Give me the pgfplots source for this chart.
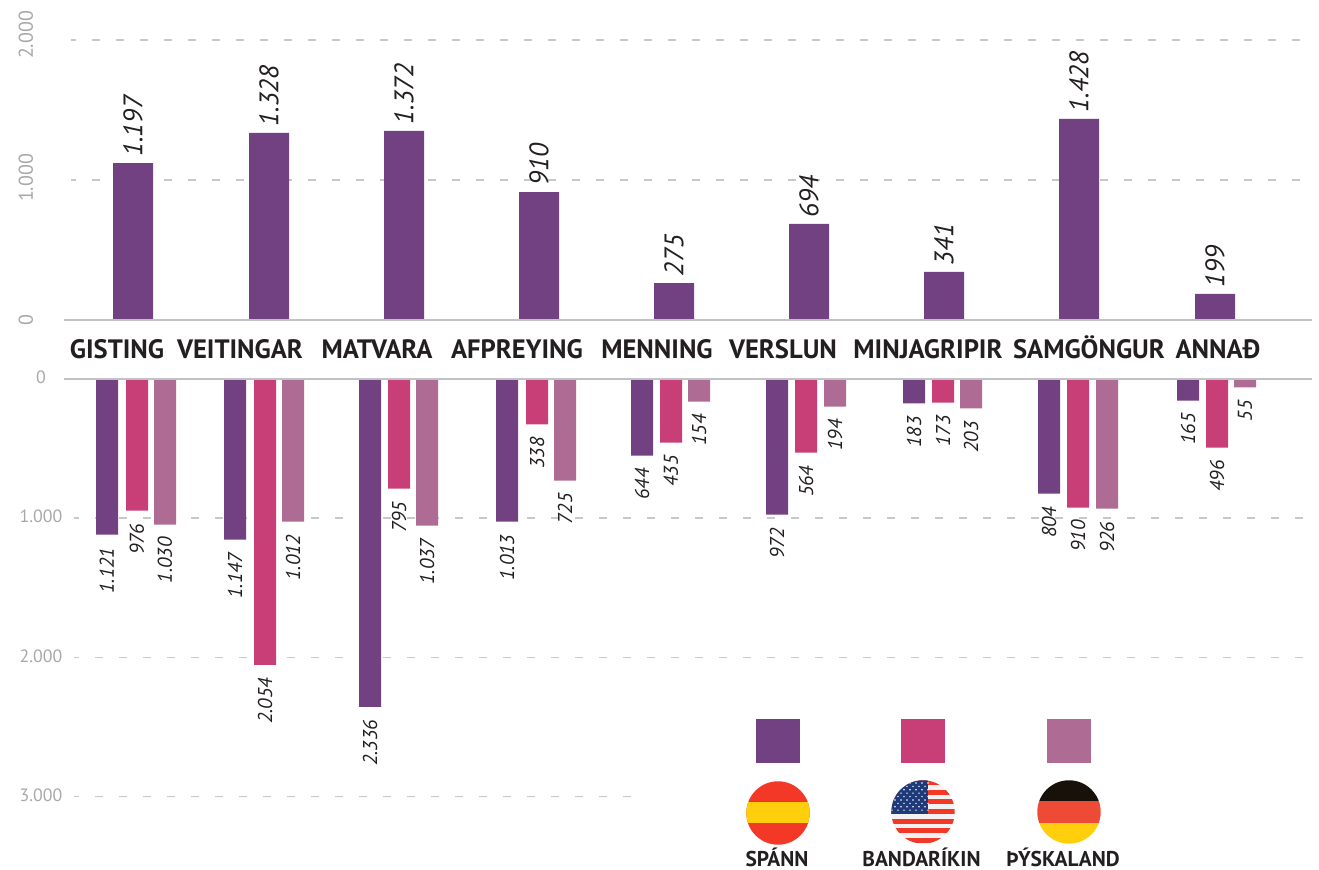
\documentclass[border=0pt]{standalone}
\usepackage{pgfplots}
\usepackage{pgfplotstable}
\pgfplotsset{compat=1.18}
\usepackage{fontspec}
\setmainfont{PT Sans}
\definecolor{purp}{HTML}{724181}
\definecolor{pink}{HTML}{C83F78}
\definecolor{mauve}{HTML}{AE6B93}
\definecolor{gridc}{HTML}{C8C8C8}
\definecolor{basec}{HTML}{C2C2C6}
\definecolor{tickc}{HTML}{A8A8A8}
\definecolor{inkc}{HTML}{231F20}
\definecolor{fred}{HTML}{F33827}
\definecolor{fyel}{HTML}{FFCE0D}
\definecolor{fblue}{HTML}{1F3A78}
\definecolor{fwhite}{HTML}{F2F2F2}
\definecolor{fblack}{HTML}{17110A}
\definecolor{fred2}{HTML}{EE4B37}
% x = horizontal position on the picture, v = bar length as drawn, l = printed value
\pgfplotstableread{
x v l
133 1121 1.197
269 1336 1.328
404 1350 1.372
539 914 910
674 264 275
809 686 694
944 343 341
1079 1436 1.428
1215 186 199
}\topdata
\pgfplotstableread{
x v l
107 1119 1.121
235 1155 1.147
370 2356 2.336
507 1025 1.013
642 550 644
777 975 972
914 176 183
1049 824 804
1188 155 165
}\spain
\pgfplotstableread{
x v l
137 946 976
265 2054 2.054
399 788 795
537 327 338
671 457 435
806 529 564
943 169 173
1078 924 910
1217 493 496
}\usa
\pgfplotstableread{
x v l
165 1046 1.030
293 1025 1.012
427 1054 1.037
565 730 725
699 162 154
835 198 194
971 212 203
1107 932 926
1245 61 55
}\germany
\pgfplotsset{
  base/.style={scale only axis, width=659.5pt, xmin=0, xmax=1319,
    enlargelimits=false, clip=false, axis line style={draw=none},
    major tick length=0pt, tick style={draw=none}, axis on top=false},
  griddash/.style={gridc, line width=0.75pt, dash pattern=on 4pt off 8pt, dash phase=1.5pt, mark=none, forget plot},
  baseln/.style={basec, line width=1pt, mark=none, forget plot},
  lower/.style={ybar, bar shift=0pt, bar width=11pt, fill=#1, draw=none,
    point meta=explicit symbolic, nodes near coords,
    nodes near coords style={rotate=90, anchor=east, inner xsep=6.3pt, inner ysep=0pt,
      font=\itshape\fontsize{10}{11}\selectfont, text=inkc}},
}
\begin{document}
\begin{tikzpicture}
\path[use as bounding box] (0,0) rectangle (659.5pt,435pt);
\begin{axis}[base, at={(0,275pt)}, anchor=south west, height=140pt, ymin=0, ymax=2000,
  ytick={0,1000,2000}, yticklabels={0,{\hspace{2pt}1.000},{\hspace{5pt}2.000}},
  yticklabel style={font=\fontsize{10}{11}\selectfont, text=tickc, xshift=13pt, rotate=90, anchor=center},
  xtick={117,240,377,517,657,783,928,1089,1218},
  xticklabels={GISTING,VEITINGAR,MATVARA,AFPREYING,MENNING,VERSLUN,MINJAGRIPIR,SAMGÖNGUR,ANNAÐ},
  xticklabel style={font=\bfseries\fontsize{13.3}{14}\selectfont, text=inkc, anchor=base, yshift=-19.5pt, inner sep=0pt},
]
\addplot[griddash] coordinates {(71,1000) (1312,1000)};
\addplot[griddash] coordinates {(71,2000) (1312,2000)};
\addplot[ybar, bar shift=0pt, bar width=20pt, fill=purp, draw=none,
  point meta=explicit symbolic, nodes near coords,
  nodes near coords style={rotate=90, anchor=west, inner xsep=3pt, inner ysep=0pt,
    font=\itshape\fontsize{13.4}{14}\selectfont, text=inkc}]
  table[x=x, y=v, meta=l] {\topdata};
\addplot[baseln] coordinates {(64,0) (1312,0)};
\end{axis}
\begin{axis}[base, at={(0,245.5pt)}, anchor=north west, height=208.75pt, y dir=reverse, ymin=0, ymax=3000,
  ytick={0,1000,2000,3000}, yticklabels={0,1.000,2.000,3.000},
  yticklabel style={font=\fontsize{8.9}{10}\selectfont, text=tickc, anchor=center, xshift=20.5pt, yshift=0.7pt},
  xtick=\empty,
]
\addplot[griddash] coordinates {(74,1000) (1312,1000)};
\addplot[griddash] coordinates {(74,2000) (1312,2000)};
\addplot[griddash] coordinates {(74,3000) (632,3000)};
\addplot[lower=purp] table[x=x, y=v, meta=l] {\spain};
\addplot[lower=pink] table[x=x, y=v, meta=l] {\usa};
\addplot[lower=mauve] table[x=x, y=v, meta=l] {\germany};
\addplot[baseln] coordinates {(64,0) (1312,0)};
\end{axis}
\begin{scope}[yshift=435pt, x=0.5pt, y=-0.5pt]
  \fill[purp] (756,719) rectangle (800,763);
  \fill[pink] (901,719) rectangle (945,763);
  \fill[mauve] (1047,719) rectangle (1091,763);
  % Spain
  \begin{scope}
    \clip (778,813) circle[radius=31.7];
    \fill[fred] (740,775) rectangle (816,851);
    \fill[fyel] (740,802) rectangle (816,823.5);
  \end{scope}
  % USA
  \begin{scope}
    \clip (923,812) circle[radius=31.7];
    \fill[fwhite] (885,775) rectangle (961,851);
    \foreach \i in {0,2,...,12} {
      \fill[fred] (885,{780+\i*4.85}) rectangle (961,{780+\i*4.85+4.85});
    }
    \fill[fblue] (885,775) rectangle (928,814);
    \foreach \a in {0,...,6} \foreach \b in {0,2,...,8} {
      \fill[white] ({892+\a*6},{783+\b*3.4}) circle[radius=0.8];
    }
    \foreach \a in {0,...,5} \foreach \b in {1,3,...,7} {
      \fill[white] ({895+\a*6},{783+\b*3.4}) circle[radius=0.8];
    }
  \end{scope}
  % Germany
  \begin{scope}
    \clip (1069,812) circle[radius=31.7];
    \fill[fblack] (1030,775) rectangle (1106,801);
    \fill[fred2] (1030,801) rectangle (1106,823);
    \fill[fyel] (1030,823) rectangle (1106,851);
  \end{scope}
  \node[anchor=base, inner sep=0pt, text=inkc, font=\bfseries\fontsize{10.7}{11}\selectfont] at (777,866.4) {SPÁNN};
  \node[anchor=base, inner sep=0pt, text=inkc, font=\bfseries\fontsize{10.7}{11}\selectfont] at (921.5,866.4) {BANDARÍKIN};
  \node[anchor=base, inner sep=0pt, text=inkc, font=\bfseries\fontsize{10.7}{11}\selectfont] at (1063,866.4) {ÞÝSKALAND};
\end{scope}
\end{tikzpicture}
\end{document}
